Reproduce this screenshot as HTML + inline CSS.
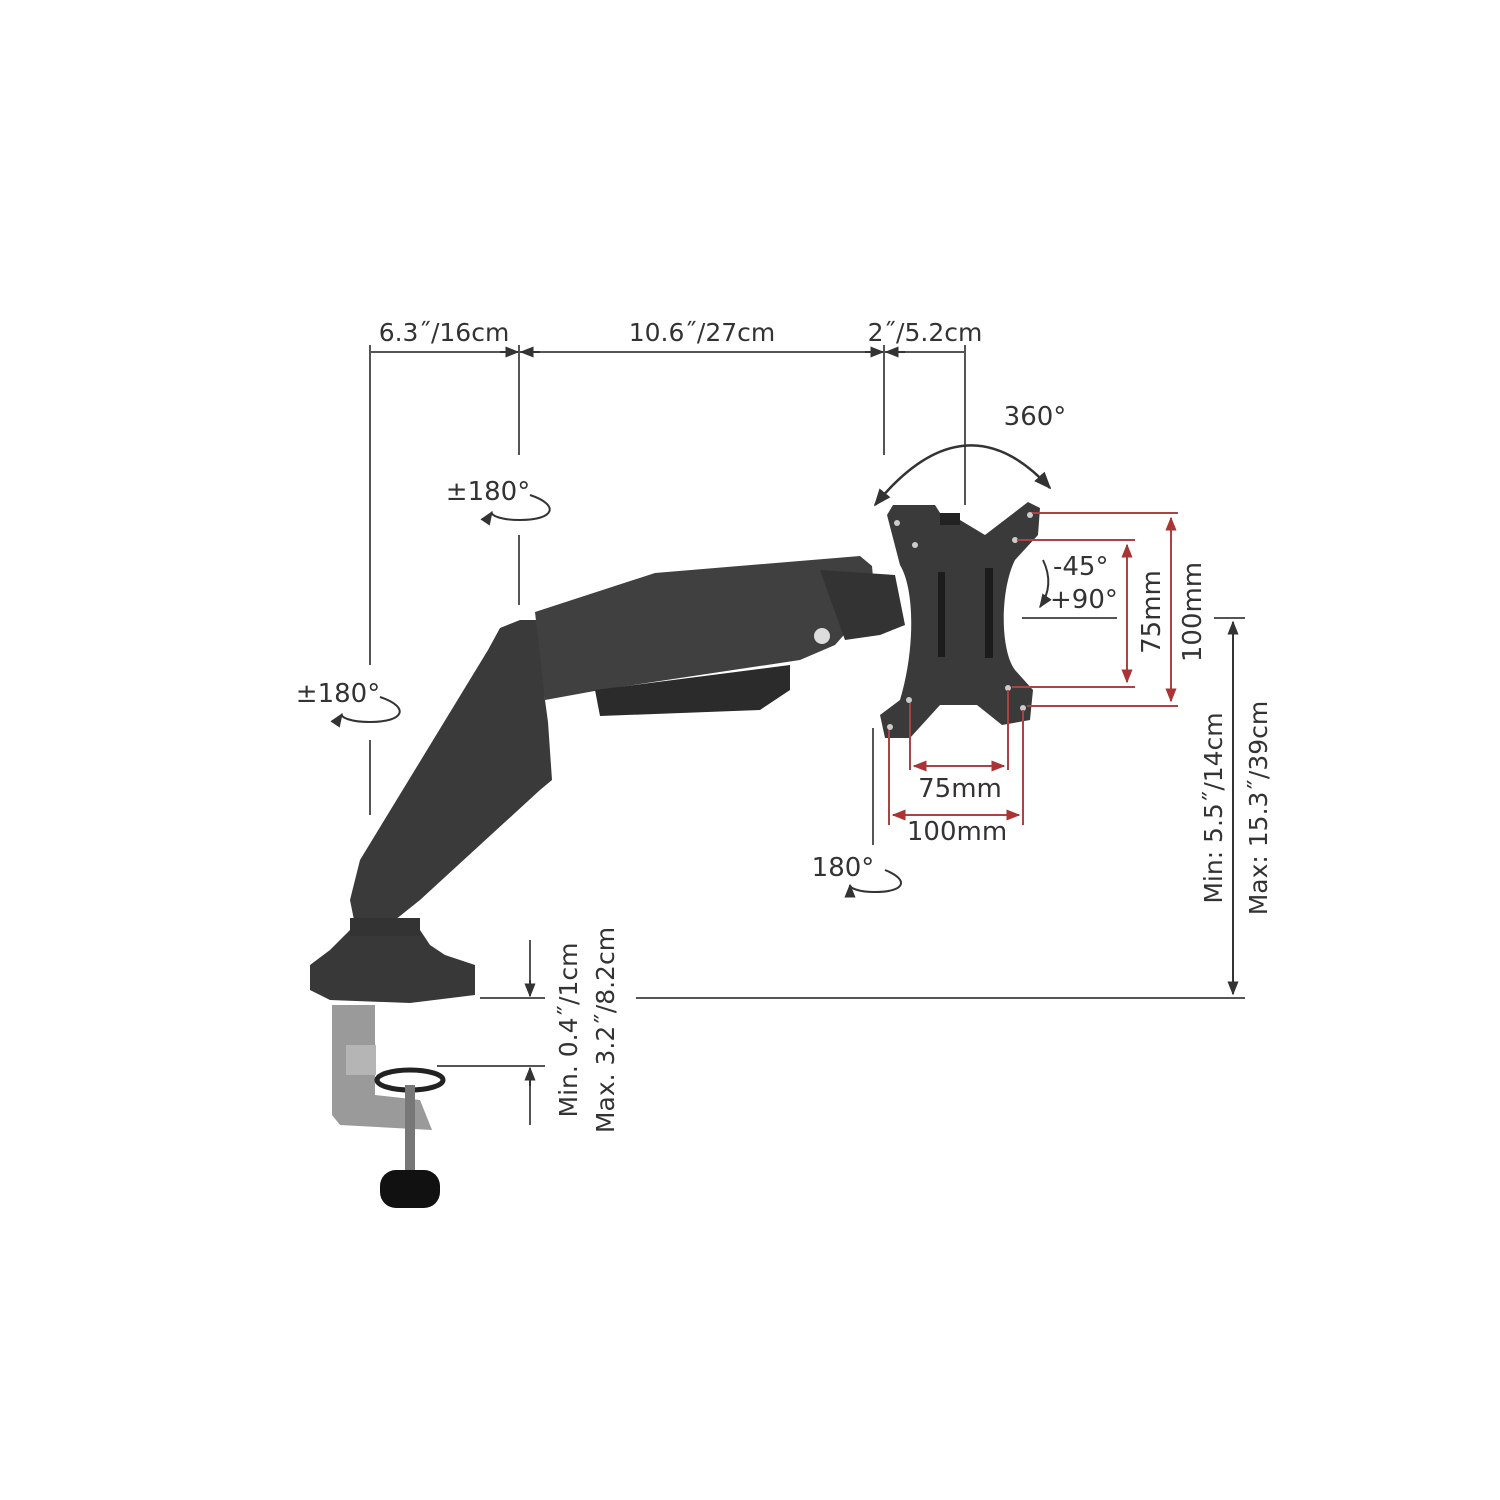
<!DOCTYPE html>
<html><head><meta charset="utf-8"><style>
html,body{margin:0;padding:0;background:#fff}
svg{display:block}
text{font-family:"DejaVu Sans","Liberation Sans",sans-serif;fill:#333}
</style></head><body>
<svg width="1500" height="1500" viewBox="0 0 1500 1500" xmlns="http://www.w3.org/2000/svg">
<defs>
<marker id="a" viewBox="0 0 10 10" refX="9" refY="5" markerWidth="7" markerHeight="7" orient="auto-start-reverse"><path d="M0,1 L10,5 L0,9 z" fill="#333"/></marker>
<marker id="r" viewBox="0 0 10 10" refX="9" refY="5" markerWidth="7" markerHeight="7" orient="auto-start-reverse"><path d="M0,1 L10,5 L0,9 z" fill="#a33"/></marker>
</defs>
<rect width="1500" height="1500" fill="#fff"/>

<g stroke="#555" stroke-width="2" fill="none">
<line x1="370" y1="352" x2="965" y2="352"/>
<line x1="370" y1="345" x2="370" y2="665"/><line x1="370" y1="740" x2="370" y2="815"/>
<line x1="519" y1="345" x2="519" y2="455"/><line x1="519" y1="535" x2="519" y2="605"/>
<line x1="884" y1="345" x2="884" y2="455"/>
<line x1="965" y1="345" x2="965" y2="505"/>
<line x1="873" y1="728" x2="873" y2="845"/>
</g>
<g stroke="#333" stroke-width="2">
<line x1="500" y1="352" x2="518" y2="352" marker-end="url(#a)"/>
<line x1="540" y1="352" x2="521" y2="352" marker-end="url(#a)"/>
<line x1="865" y1="352" x2="883" y2="352" marker-end="url(#a)"/>
<line x1="905" y1="352" x2="886" y2="352" marker-end="url(#a)"/>
</g>
<text x="444" y="341" font-size="25" text-anchor="middle">6.3˝/16cm</text>
<text x="702" y="341" font-size="25" text-anchor="middle">10.6˝/27cm</text>
<text x="925" y="341" font-size="25" text-anchor="middle">2˝/5.2cm</text>

<text x="1035" y="425" font-size="26" text-anchor="middle">360°</text>
<path d="M875,505 Q965,395 1050,488" stroke="#333" stroke-width="2.5" fill="none" marker-start="url(#a)" marker-end="url(#a)"/>
<text x="488" y="500" font-size="26" text-anchor="middle">±180°</text>
<path d="M530,495 C560,505 555,520 520,520 C500,520 490,515 492,512" stroke="#333" stroke-width="2" fill="none" marker-end="url(#a)"/>
<text x="338" y="702" font-size="26" text-anchor="middle">±180°</text>
<path d="M380,697 C410,707 405,722 370,722 C350,722 340,717 342,714" stroke="#333" stroke-width="2" fill="none" marker-end="url(#a)"/>
<text x="843" y="876" font-size="26" text-anchor="middle">180°</text>
<path d="M885,870 C910,880 905,892 875,892 C858,892 850,888 850,885" stroke="#333" stroke-width="2" fill="none" marker-end="url(#a)"/>

<g fill="#3a3a3a">
<path d="M488,650 L500,628 L520,620 L540,620 L545,700 L548,722 L552,780 L540,790 L420,900 L395,920 L355,925 L350,900 L360,860 Z"/>
<path d="M535,612 L655,573 L860,556 L872,566 L875,600 L835,645 L800,660 L600,690 L545,700 Z" fill="#404040"/>
<path d="M595,690 L790,665 L790,690 L760,710 L600,716 Z" fill="#2b2b2b"/>
<path d="M820,570 L895,575 L905,625 L880,635 L845,640 Z" fill="#333"/>
<circle cx="822" cy="636" r="8" fill="#ddd"/>
<path d="M350,930 L420,930 L430,945 L445,955 L475,965 L475,995 L410,1003 L330,1000 L310,990 L310,965 L330,950 Z" fill="#383838"/>
<rect x="350" y="918" width="70" height="18" fill="#333"/>
</g>
<path d="M332,1005 L375,1005 L375,1095 L420,1100 L432,1130 L340,1125 L332,1115 Z" fill="#9a9a9a"/>
<rect x="346" y="1045" width="30" height="30" fill="#b5b5b5"/>
<ellipse cx="410" cy="1080" rx="33" ry="10" fill="none" stroke="#222" stroke-width="5"/>
<rect x="405" y="1085" width="10" height="95" fill="#777"/>
<rect x="380" y="1170" width="60" height="38" rx="16" fill="#111"/>

<path d="M887,515 L893,505 L935,505 L942,516 L960,520 L985,535 L1028,502 L1040,508 L1038,535 L1015,560 C1000,590 1000,650 1015,670 L1033,690 L1030,720 L1002,725 L977,705 L940,705 L910,738 L885,738 L880,715 L900,700 C915,650 915,590 900,565 Z" fill="#3a3a3a"/>
<rect x="940" y="513" width="20" height="12" fill="#222"/>
<rect x="938" y="572" width="7" height="85" fill="#1c1c1c"/>
<rect x="985" y="568" width="8" height="90" fill="#1c1c1c"/>
<g fill="#ccc"><circle cx="897" cy="523" r="3"/><circle cx="915" cy="545" r="3"/><circle cx="1030" cy="515" r="3"/><circle cx="1015" cy="540" r="3"/><circle cx="909" cy="700" r="3"/><circle cx="890" cy="727" r="3"/><circle cx="1008" cy="688" r="3"/><circle cx="1023" cy="708" r="3"/></g>

<g stroke="#a44" stroke-width="2" fill="none">
<line x1="1032" y1="513" x2="1178" y2="513"/>
<line x1="1017" y1="540" x2="1135" y2="540"/>
<line x1="1012" y1="687" x2="1135" y2="687"/>
<line x1="1027" y1="706" x2="1178" y2="706"/>
<line x1="910" y1="703" x2="910" y2="770"/>
<line x1="1008" y1="690" x2="1008" y2="770"/>
<line x1="889" y1="730" x2="889" y2="825"/>
<line x1="1023" y1="710" x2="1023" y2="825"/>
</g>
<g stroke="#a44" stroke-width="2">
<line x1="1127" y1="545" x2="1127" y2="682" marker-start="url(#r)" marker-end="url(#r)"/>
<line x1="1171" y1="518" x2="1171" y2="701" marker-start="url(#r)" marker-end="url(#r)"/>
<line x1="914" y1="766" x2="1004" y2="766" marker-start="url(#r)" marker-end="url(#r)"/>
<line x1="893" y1="815" x2="1019" y2="815" marker-start="url(#r)" marker-end="url(#r)"/>
</g>
<text x="1160" y="612" font-size="26" text-anchor="middle" transform="rotate(-90 1160 612)">75mm</text>
<text x="1201" y="612" font-size="26" text-anchor="middle" transform="rotate(-90 1201 612)">100mm</text>
<text x="960" y="797" font-size="26" text-anchor="middle">75mm</text>
<text x="957" y="840" font-size="26" text-anchor="middle">100mm</text>
<text x="1053" y="575" font-size="26">-45°</text>
<text x="1050" y="608" font-size="26">+90°</text>
<path d="M1043,560 Q1055,585 1040,607" stroke="#333" stroke-width="2" fill="none" marker-end="url(#a)"/>
<line x1="1022" y1="618" x2="1117" y2="618" stroke="#555" stroke-width="2"/>

<g stroke="#555" stroke-width="2">
<line x1="1214" y1="618" x2="1245" y2="618"/>
<line x1="636" y1="998" x2="1245" y2="998"/>
<line x1="480" y1="998" x2="545" y2="998"/>
<line x1="437" y1="1066" x2="545" y2="1066"/>
<line x1="530" y1="940" x2="530" y2="985"/>
<line x1="530" y1="1080" x2="530" y2="1125"/>
</g>
<line x1="1233" y1="622" x2="1233" y2="994" stroke="#333" stroke-width="2" marker-start="url(#a)" marker-end="url(#a)"/>
<line x1="530" y1="980" x2="530" y2="996" stroke="#333" stroke-width="2" marker-end="url(#a)"/>
<line x1="530" y1="1086" x2="530" y2="1068" stroke="#333" stroke-width="2" marker-end="url(#a)"/>
<text x="1222" y="808" font-size="25" text-anchor="middle" transform="rotate(-90 1222 808)">Min: 5.5˝/14cm</text>
<text x="1267" y="808" font-size="25" text-anchor="middle" transform="rotate(-90 1267 808)">Max: 15.3˝/39cm</text>
<text x="577" y="1030" font-size="25" text-anchor="middle" transform="rotate(-90 577 1030)">Min. 0.4˝/1cm</text>
<text x="614" y="1030" font-size="25" text-anchor="middle" transform="rotate(-90 614 1030)">Max. 3.2˝/8.2cm</text>
</svg>
</body></html>
